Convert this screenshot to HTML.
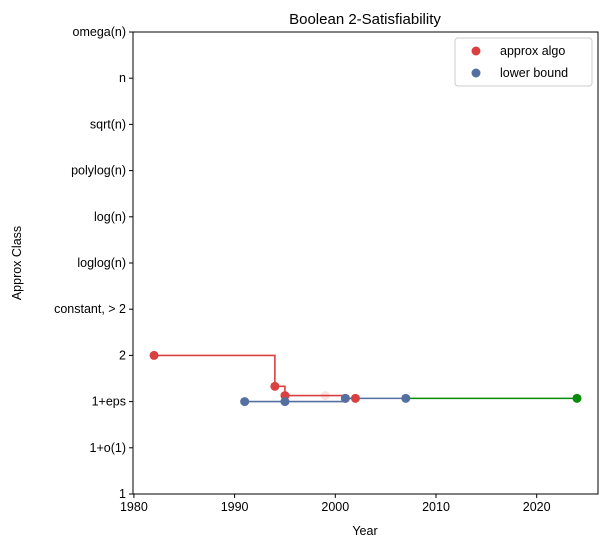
<!DOCTYPE html>
<html><head><meta charset="utf-8"><style>
body{margin:0;background:#fff;font-family:"Liberation Sans",sans-serif}
</style></head><body>
<svg width="608" height="547" xmlns="http://www.w3.org/2000/svg" font-family="Liberation Sans, sans-serif">
<g id="g"></g>
</svg>
<script>
const yLabels=["1","1+o(1)","1+eps","2","constant, > 2","loglog(n)","log(n)","polylog(n)","sqrt(n)","n","omega(n)"];
const xTicks=[1980,1990,2000,2010,2020];
const algoYears=[1982,1994,1995,2001,2002];
const algoVals=[3,2.33,2.13,2.07,2.07];
const fadedYears=[1999];
const fadedVals=[2.13];
const lbYears=[1991,1995,2001,2007];
const lbVals=[2,2,2.07,2.07];
const greenYears=[2007,2024];
const greenVals=[2.07,2.07];
const L=133,R=598,T=32,B=494;
const X=v=>133.9+(v-1980)*10.07;
const Y=v=>B-(B-T)*v/10;
const g=document.getElementById('g');const NS='http://www.w3.org/2000/svg';
function mk(t,a,txt){const e=document.createElementNS(NS,t);for(const k in a)e.setAttribute(k,a[k]);if(txt!==undefined)e.textContent=txt;g.appendChild(e);return e;}
let e=mk('rect',{x:L,y:T,width:R-L,height:B-T,fill:'none',stroke:'#000','stroke-width':1});


yLabels.forEach((s,i)=>{mk('line',{x1:L-4,x2:L,y1:Y(i),y2:Y(i),stroke:'#000'});
e=mk('text',{x:L-7,y:Y(i)+4,'text-anchor':'end','font-size':12.5},s);

});
xTicks.forEach(v=>{mk('line',{x1:X(v),x2:X(v),y1:B,y2:B+4,stroke:'#000'});
e=mk('text',{x:X(v),y:B+17,'text-anchor':'middle','font-size':12.5},v);

});
e=mk('text',{x:365,y:535,'text-anchor':'middle','font-size':12.5},'Year');


e=mk('text',{x:21,y:263,'text-anchor':'middle','font-size':12.5,transform:'rotate(-90 21 263)'},'Approx Class');


e=mk('text',{x:365,y:24,'text-anchor':'middle','font-size':15},'Boolean 2-Satisfiability');


function step(xs,ys,c){let d='M'+X(xs[0])+','+Y(ys[0]);for(let i=1;i<xs.length;i++){d+='H'+X(xs[i])+'V'+Y(ys[i]);}return mk('path',{d:d,fill:'none',stroke:c,'stroke-width':1.6});}
e=step(algoYears,algoVals,'#d94040');
e=step(lbYears,lbVals,'#5470a0');
e=step(greenYears,greenVals,'#0a8a0a');
fadedYears.forEach((v,i)=>{e=mk('circle',{cx:X(v),cy:Y(fadedVals[i]),r:4.5,fill:'#d94040',opacity:0.15});});
algoYears.forEach((v,i)=>{e=mk('circle',{cx:X(v),cy:Y(algoVals[i]),r:4.5,fill:'#d94040'});});
lbYears.forEach((v,i)=>{e=mk('circle',{cx:X(v),cy:Y(lbVals[i]),r:4.5,fill:'#5470a0'});});
e=mk('circle',{cx:X(greenYears[1]),cy:Y(greenVals[1]),r:4.5,fill:'#0a8a0a'});
e=mk('rect',{x:455,y:38,width:137,height:48,rx:3,fill:'#fff',stroke:'#ccc'});
mk('circle',{cx:476,cy:51,r:4.5,fill:'#d94040'});
e=mk('text',{x:500,y:55,'font-size':12.5},'approx algo');
mk('circle',{cx:476,cy:73,r:4.5,fill:'#5470a0'});
e=mk('text',{x:500,y:77,'font-size':12.5},'lower bound');
</script>
</body></html>
